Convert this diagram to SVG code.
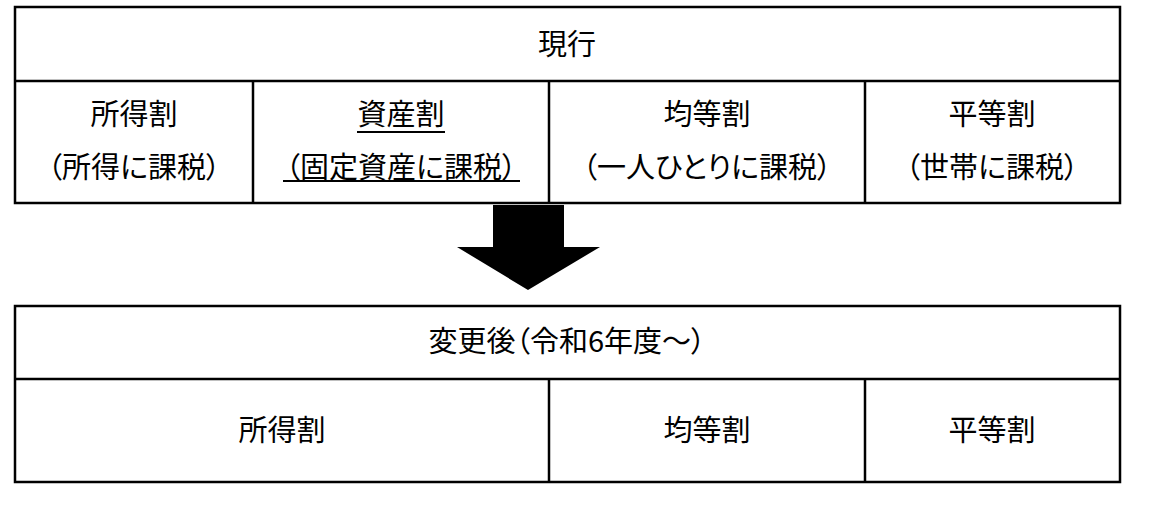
<svg xmlns="http://www.w3.org/2000/svg" width="1163" height="509" viewBox="0 0 1163 509">
<style>
.bx{fill:#fff;stroke:#000;stroke-width:2.5}
.ln{stroke:#000;stroke-width:2.5;fill:none}
.ul{stroke:#000;stroke-width:2;fill:none}
.t{font-family:"Noto Sans CJK JP","Noto Sans",sans-serif;font-size:29px;fill:#000;text-anchor:middle;font-feature-settings:"palt"}
</style>
<rect width="1163" height="509" fill="#fff"/>
<g id="current-table">
  <rect class="bx" x="15" y="7" width="1105" height="196"/>
  <line class="ln" x1="15" y1="81" x2="1120" y2="81"/>
  <line class="ln" x1="253" y1="81" x2="253" y2="203"/>
  <line class="ln" x1="549" y1="81" x2="549" y2="203"/>
  <line class="ln" x1="865" y1="81" x2="865" y2="203"/>
</g>
<g id="current-header"><text class="t" x="567" y="55">現行</text></g>
<g id="income-levy"><text class="t" x="134" y="125">所得割</text><text class="t" x="134" y="178">（所得に課税）</text></g>
<g id="asset-levy"><text class="t" x="401" y="125">資産割</text><text class="t" x="401" y="178">（固定資産に課税）</text>
  <line class="ul" x1="357" y1="132" x2="445" y2="132"/><line class="ul" x1="283" y1="181" x2="520" y2="181"/></g>
<g id="per-capita-levy"><text class="t" x="707" y="125">均等割</text><text class="t" x="707" y="178">（一人ひとりに課税）</text></g>
<g id="household-levy"><text class="t" x="992" y="125">平等割</text><text class="t" x="992" y="178">（世帯に課税）</text></g>
<g id="connectors">
  <polygon points="493,205 564,205 564,247 600,247 528,290 457,247 493,247" fill="#000"/>
</g>
<g id="new-table">
  <rect class="bx" x="15" y="306" width="1105" height="176"/>
  <line class="ln" x1="15" y1="379" x2="1120" y2="379"/>
  <line class="ln" x1="549" y1="379" x2="549" y2="482"/>
  <line class="ln" x1="865" y1="379" x2="865" y2="482"/>
</g>
<g id="new-header"><text class="t" x="567" y="352">変更後（令和6年度～）</text></g>
<g id="new-income-levy"><text class="t" x="282" y="441">所得割</text></g>
<g id="new-per-capita-levy"><text class="t" x="707" y="441">均等割</text></g>
<g id="new-household-levy"><text class="t" x="992" y="441">平等割</text></g>
</svg>
